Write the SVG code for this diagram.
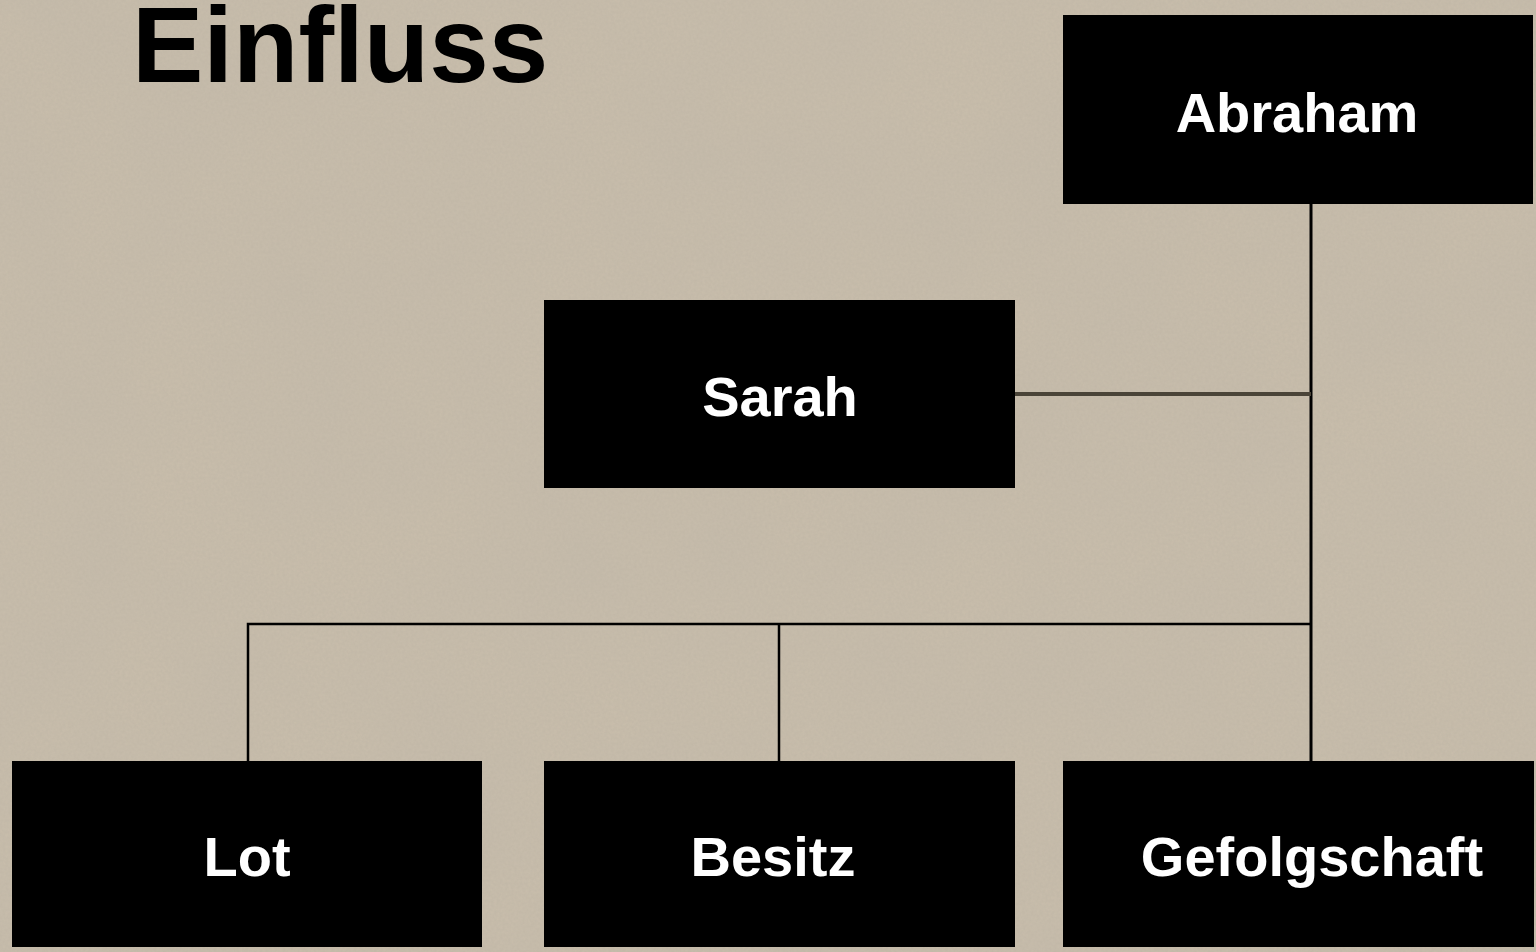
<svg xmlns="http://www.w3.org/2000/svg" width="1536" height="952" viewBox="0 0 1536 952">
<defs>
<filter id="paper" x="0" y="0" width="100%" height="100%">
<feTurbulence type="fractalNoise" baseFrequency="0.35" numOctaves="2" seed="3" result="fine"/>
<feColorMatrix in="fine" type="matrix" values="0 0 0 0 0.45  0 0 0 0 0.41  0 0 0 0 0.34  0 0 0 0.6 -0.1" result="fineC"/>
<feTurbulence type="fractalNoise" baseFrequency="0.008" numOctaves="3" seed="7" result="coarse"/>
<feColorMatrix in="coarse" type="matrix" values="0 0 0 0 0.5  0 0 0 0 0.46  0 0 0 0 0.4  0 0 0 0.6 -0.15" result="coarseC"/>
<feMerge><feMergeNode in="coarseC"/><feMergeNode in="fineC"/></feMerge>
</filter>
<style>
.box{fill:#000}
.lbl{fill:#fff;font-family:"Liberation Sans",Arial,sans-serif;font-weight:bold;font-size:56px;text-anchor:middle}
.ttl{fill:#000;font-family:"Liberation Sans",Arial,sans-serif;font-weight:bold;font-size:107px}
.ln{stroke:#000;stroke-width:2.5;fill:none}
</style>
</defs>
<rect width="1536" height="952" fill="#c8bdab"/>
<rect width="1536" height="952" filter="url(#paper)" opacity="0.6"/>
<text class="ttl" x="132" y="82">Einfluss</text>
<g id="connectors">
<line class="ln" x1="1311" y1="204" x2="1311" y2="762" style="stroke-width:3"/>
<line x1="1015" y1="394" x2="1311" y2="394" stroke="#4a4438" stroke-width="4"/>
<polyline class="ln" points="248,762 248,624 1311,624"/>
<line class="ln" x1="779" y1="624" x2="779" y2="762"/>
</g>
<g id="abraham"><rect class="box" x="1063" y="15" width="470" height="189"/><text class="lbl" x="1297" y="132">Abraham</text></g>
<g id="sarah"><rect class="box" x="544" y="300" width="471" height="188"/><text class="lbl" x="780" y="416">Sarah</text></g>
<g id="lot"><rect class="box" x="12" y="761" width="470" height="186"/><text class="lbl" x="247" y="876">Lot</text></g>
<g id="besitz"><rect class="box" x="544" y="761" width="471" height="186"/><text class="lbl" x="773" y="876">Besitz</text></g>
<g id="gefolgschaft"><rect class="box" x="1063" y="761" width="471" height="186"/><text class="lbl" x="1312" y="876">Gefolgschaft</text></g>
</svg>
